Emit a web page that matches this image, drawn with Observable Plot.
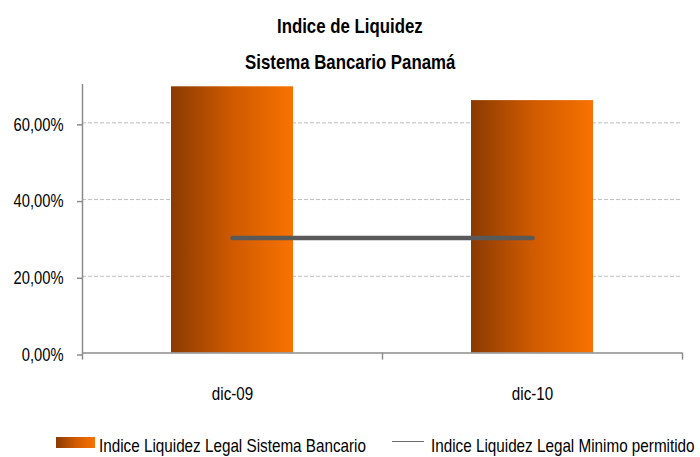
<!DOCTYPE html>
<html><head><meta charset="utf-8">
<script src="https://cdn.jsdelivr.net/npm/d3@7"></script>
<script src="https://cdn.jsdelivr.net/npm/@observablehq/plot@0.6"></script>
<style>
body{margin:0;background:#fff;}
#wrap{position:relative;width:700px;height:457px;overflow:hidden;font-family:"Liberation Sans",Arial,sans-serif;color:#000;background:#fff;}
.t{position:absolute;left:0;width:700px;text-align:center;font-weight:bold;font-size:20.5px;line-height:20px;white-space:nowrap;}
.t span{display:inline-block;transform:scaleX(0.82);transform-origin:50% 50%;}
#chart{position:absolute;left:0;top:75px;}
.lg{position:absolute;font-size:18.6px;line-height:18px;white-space:nowrap;transform:scaleX(0.82);transform-origin:0 50%;}
.sw1{position:absolute;left:56px;top:437px;width:39px;height:11px;background:linear-gradient(to right,#8a3a02,#cf5a00 50%,#f87200);}
.sw2{position:absolute;left:392px;top:441px;width:32px;height:0;border-top:1.5px solid #6a6a6a;}
</style></head><body>
<div id="wrap">
<div class="t" style="top:16px"><span>Indice de Liquidez</span></div>
<div class="t" style="top:52px"><span>Sistema Bancario Panamá</span></div>
<div id="chart"></div>
<div class="sw1"></div>
<div class="lg" id="lg1" style="left:99px;top:437px"></div>
<div class="sw2"></div>
<div class="lg" id="lg2" style="left:431px;top:437px"></div>
</div>
<script>
const categories = ["dic-09", "dic-10"];
const liquidezSistema = [0.694, 0.658];
const liquidezMinimo = [0.30, 0.30];
const yTicks = [0, 0.2, 0.4, 0.6];
const seriesNames = ["Indice Liquidez Legal Sistema Bancario", "Indice Liquidez Legal Minimo permitido"];

const data = categories.map((c, i) => ({cat: c, value: liquidezSistema[i], min: liquidezMinimo[i]}));
const fmt = d => d3.format(".2f")(d * 100).replace(".", ",") + "%";
const axisColor = "#8c8c8c";
const font = '"Liberation Sans",Arial,sans-serif';

const svg = Plot.plot({
  width: 700, height: 345,
  marginTop: 9, marginBottom: 67.5, marginLeft: 82, marginRight: 18,
  style: {fontFamily: font, fontSize: "18px", color: "#000", background: "#fff"},
  x: {domain: categories, padding: 0},
  y: {domain: [0, 0.70]},
  marks: [
    Plot.ruleY(yTicks.filter(d => d > 0), {stroke: "#bdbdbd", strokeDasharray: "4,2", strokeWidth: 1}),
    Plot.barY(data, {x: "cat", y: "value", fill: "url(#barGrad)", insetLeft: 89, insetRight: 89}),
    Plot.line(data, {x: "cat", y: "min", stroke: "#595959", strokeWidth: 4.5}),
    Plot.ruleY([0], {stroke: axisColor, strokeWidth: 1.5}),
    Plot.ruleX([categories[0]], {dx: -150, y1: 0, y2: 0.70, stroke: axisColor, strokeWidth: 1.5}),
    Plot.ruleX(categories, {dx: -150, y1: 0, y2: -0.0185, stroke: axisColor, strokeWidth: 1.5}),
    Plot.ruleX([categories[categories.length - 1]], {dx: 150, y1: 0, y2: -0.0185, stroke: axisColor, strokeWidth: 1.5}),
    Plot.axisY({ticks: yTicks, tickFormat: fmt, tickSize: 5, tickPadding: 14, stroke: axisColor, strokeWidth: 1.5, fontSize: 18, dy: 2, label: null}),
    Plot.axisX({tickSize: 0, tickPadding: 34, fontSize: 18.5, label: null})
  ]
});

const defs = d3.select(svg).insert("defs", ":first-child");
const g = defs.append("linearGradient").attr("id", "barGrad").attr("x1", "0").attr("x2", "1").attr("y1", "0").attr("y2", "0");
g.append("stop").attr("offset", "0").attr("stop-color", "#8a3a02");
g.append("stop").attr("offset", "0.5").attr("stop-color", "#cf5a00");
g.append("stop").attr("offset", "1").attr("stop-color", "#f87200");

// emulate a narrow (Arial Narrow-like) face by horizontal scaling around each label's anchor
svg.querySelectorAll("text").forEach(el => {
  const x = +(el.getAttribute("x") || 0);
  const t = el.getAttribute("transform") || "";
  el.setAttribute("transform", `${t} translate(${x},0) scale(0.82,1) translate(${-x},0)`.trim());
});

document.getElementById("chart").appendChild(svg);
document.getElementById("lg1").textContent = seriesNames[0];
document.getElementById("lg2").textContent = seriesNames[1];
</script>
</body></html>
